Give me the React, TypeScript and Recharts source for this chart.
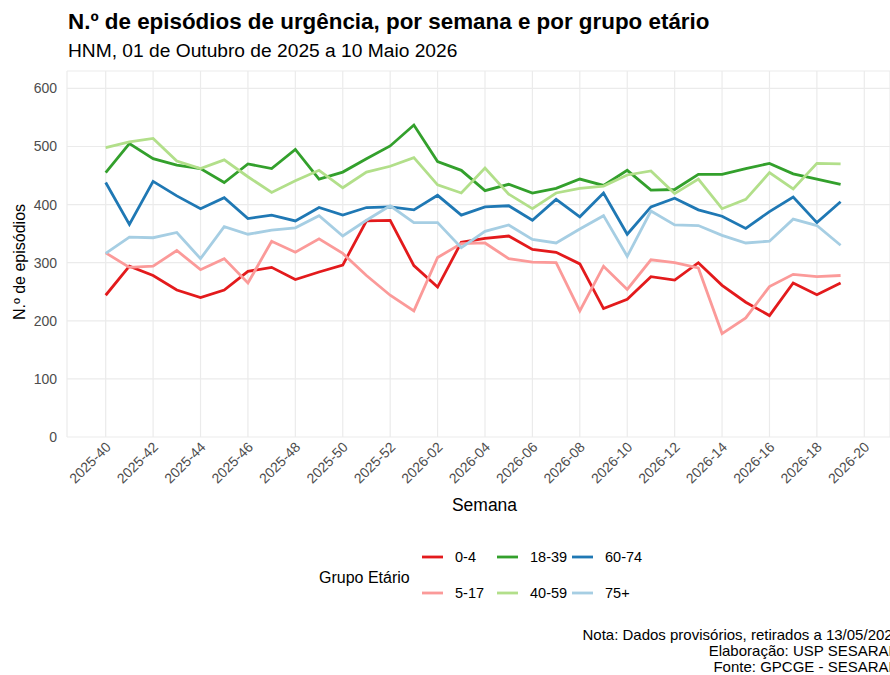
import { LineChart, Line, XAxis, YAxis, CartesianGrid } from 'recharts';

const weeks = [
  '2025-40', '2025-41', '2025-42', '2025-43', '2025-44', '2025-45', '2025-46', '2025-47',
  '2025-48', '2025-49', '2025-50', '2025-51', '2025-52', '2026-01', '2026-02', '2026-03',
  '2026-04', '2026-05', '2026-06', '2026-07', '2026-08', '2026-09', '2026-10', '2026-11',
  '2026-12', '2026-13', '2026-14', '2026-15', '2026-16', '2026-17', '2026-18', '2026-19',
  '2026-20',
];

const groups = ['0-4', '5-17', '18-39', '40-59', '60-74', '75+'];
const colors = ['#E31A1C', '#FB9A99', '#33A02C', '#B2DF8A', '#1F78B4', '#A6CEE3'];

const g0_4 = [244, 294, 278, 253, 240, 253, 285, 292, 271, 284, 296, 372, 373, 295, 258, 335, 342, 346, 323, 318, 298, 221, 237, 276, 270, 300, 261, 232, 209, 265, 245, 265];
const g5_17 = [317, 292, 294, 321, 288, 307, 265, 337, 318, 341, 316, 278, 244, 217, 309, 333, 334, 307, 301, 300, 217, 294, 254, 305, 300, 291, 178, 205, 259, 280, 276, 278];
const g18_39 = [455, 505, 479, 468, 462, 438, 470, 462, 495, 444, 456, 479, 501, 537, 474, 459, 424, 435, 420, 428, 444, 433, 459, 425, 426, 452, 452, 462, 471, 453, 444, 435];
const g40_59 = [498, 508, 514, 475, 462, 477, 448, 421, 441, 459, 429, 456, 466, 481, 434, 420, 463, 418, 393, 420, 428, 432, 451, 458, 419, 444, 393, 409, 455, 427, 471, 470];
const g60_74 = [438, 366, 440, 415, 393, 412, 376, 382, 372, 395, 382, 395, 396, 391, 416, 382, 396, 398, 373, 409, 379, 420, 349, 396, 411, 391, 380, 359, 388, 413, 369, 405];
const g75 = [316, 344, 343, 352, 307, 362, 349, 356, 360, 381, 346, 373, 398, 369, 369, 326, 354, 365, 340, 334, 358, 381, 311, 389, 365, 364, 347, 334, 337, 375, 364, 330];

const seriesValues = [g0_4, g5_17, g18_39, g40_59, g60_74, g75];
const yTicks = [0, 100, 200, 300, 400, 500, 600];

const data = g0_4.map((_, i) => {
  const row: Record<string, number | string> = { idx: i, week: weeks[i] };
  groups.forEach((g, k) => { row[g] = seriesValues[k][i]; });
  return row;
});

const xTicks = weeks.map((_, i) => i).filter((i) => i % 2 === 0);

const FONT = '"Liberation Sans", Arial, Helvetica, sans-serif';

function WeekTick(props: any) {
  const { x, y, payload } = props;
  const tx = x + 6;
  const ty = y + 11;
  return (
    <text x={tx} y={ty} textAnchor="end" fill="#4D4D4D" fontSize={14} fontFamily={FONT}
      transform={`rotate(-45 ${tx} ${ty})`}>
      {weeks[payload.value]}
    </text>
  );
}

export default function App() {
  return (
    <div style={{ position: 'absolute', left: 0, top: 0, width: 890, height: 675, overflow: 'hidden', background: '#fff', fontFamily: FONT }}>
      <LineChart width={890} height={675} data={data} margin={{ top: 71, right: 0, bottom: 178, left: 0 }}>
        <CartesianGrid stroke="#EBEBEB" strokeWidth={1.2} />
        <XAxis
          type="number"
          dataKey="idx"
          domain={[-1.632, 33.084]}
          allowDataOverflow
          ticks={xTicks}
          interval={0}
          height={60}
          axisLine={false}
          tickLine={false}
          tickSize={0}
          tickMargin={0}
          tick={<WeekTick />}
        />
        <YAxis
          type="number"
          domain={[0, 630]}
          allowDataOverflow
          ticks={yTicks}
          interval={0}
          width={67}
          axisLine={false}
          tickLine={false}
          tickSize={0}
          tickMargin={10}
          tick={{ fill: '#4D4D4D', fontSize: 14, fontFamily: FONT }}
        />
        {groups.map((g, k) => (
          <Line
            key={g}
            type="linear"
            dataKey={g}
            stroke={colors[k]}
            strokeWidth={2.8}
            dot={false}
            isAnimationActive={false}
          />
        ))}
      </LineChart>

      <svg width={890} height={675} style={{ position: 'absolute', left: 0, top: 0, pointerEvents: 'none' }} fontFamily={FONT}>
        <text x={68} y={29} fontSize={22.4} fontWeight="bold" fill="#000">
          N.º de episódios de urgência, por semana e por grupo etário
        </text>
        <text x={68} y={56.5} fontSize={19.2} fill="#000">
          HNM, 01 de Outubro de 2025 a 10 Maio 2026
        </text>
        <text x={25} y={262} fontSize={16} fill="#000" textAnchor="middle" transform="rotate(-90 25 262)">
          N.º de episódios
        </text>
        <text x={484.5} y={511} fontSize={17.5} fill="#000" textAnchor="middle">Semana</text>

        <text x={319} y={582.5} fontSize={16} fill="#000">Grupo Etário</text>
        {groups.map((g, k) => {
          const col = Math.floor(k / 2);
          const row = k % 2;
          const lx = 422 + col * 75;
          const ly = 557 + row * 36;
          return (
            <g key={g}>
              <line x1={lx} x2={lx + 21} y1={ly} y2={ly} stroke={colors[k]} strokeWidth={2.8} />
              <text x={lx + 33} y={ly + 5} fontSize={14.5} fill="#000">{g}</text>
            </g>
          );
        })}

        <text x={901} y={640} fontSize={15} fill="#000" textAnchor="end">
          Nota: Dados provisórios, retirados a 13/05/2026
        </text>
        <text x={901} y={656} fontSize={15} fill="#000" textAnchor="end">Elaboração: USP SESARAM</text>
        <text x={901} y={672} fontSize={15} fill="#000" textAnchor="end">Fonte: GPCGE - SESARAM</text>
      </svg>
    </div>
  );
}
